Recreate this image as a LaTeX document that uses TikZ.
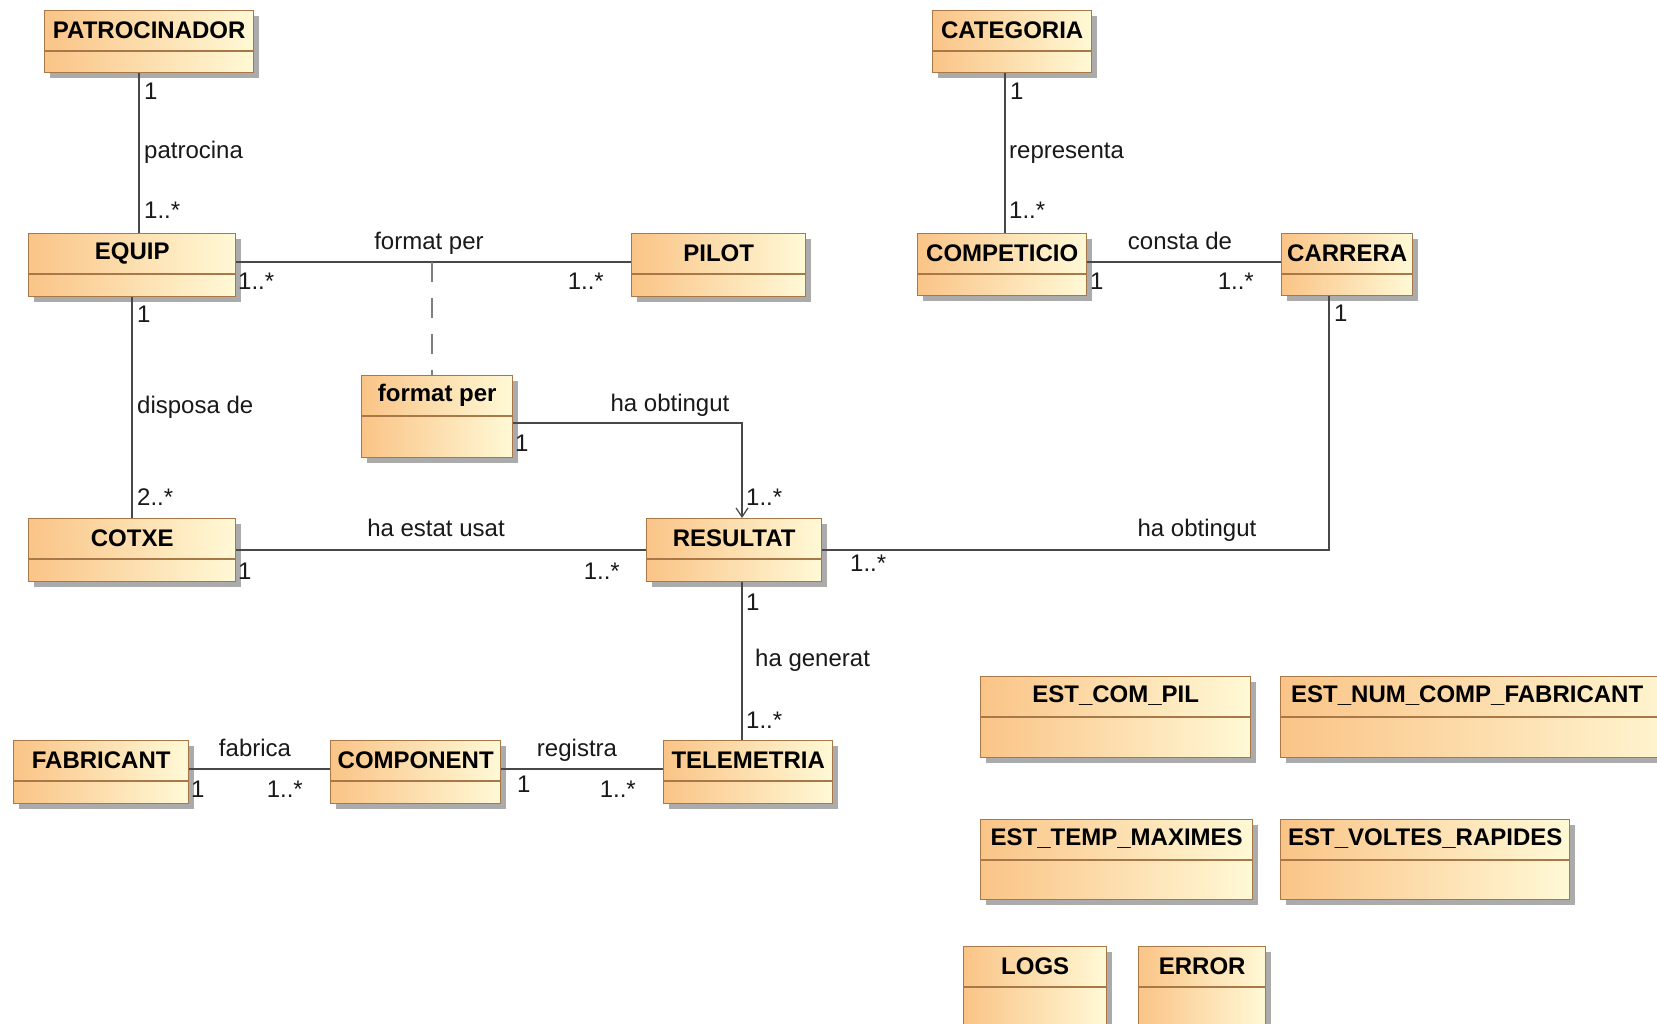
\documentclass[tikz,border=0pt]{standalone}
\usepackage{fontspec}
\setmainfont{Liberation Sans}
\usetikzlibrary{arrows.meta,shadows}
\definecolor{clsL}{RGB}{250,196,135}
\definecolor{clsR}{RGB}{255,249,214}
\definecolor{clsBorder}{RGB}{168,120,72}
\definecolor{wire}{RGB}{72,72,72}
\definecolor{dashwire}{RGB}{128,128,128}
\tikzset{
  cls/.style={rectangle, draw=clsBorder, line width=1.4pt, left color=clsL, right color=clsR,
    inner sep=0pt, anchor=north west,
    drop shadow={shadow xshift=5pt, shadow yshift=-5pt, fill=black!33, opacity=1}},
  divider/.style={draw=clsBorder, line width=1.4pt},
  title/.style={inner sep=0pt, font=\fontsize{24}{27}\selectfont\bfseries},
  lab/.style={inner sep=0pt, font=\fontsize{24}{27}\selectfont, text=black!90},
  assoc/.style={draw=wire, line width=1.4pt},
  navi/.style={assoc, -{Straight Barb[length=9pt,width=12pt,line width=1.2pt]}},
  anchorline/.style={draw=dashwire, line width=1.4pt, dash pattern=on 20pt off 16pt},
}
% class box: name, left, top, width, height, title
\newcommand\umlclass[6]{%
  \node[cls, minimum width=#4pt, minimum height=#5pt] (#1) at (#2,#3) {};
  \draw[divider] ([yshift=-41pt]#1.north west) -- ([yshift=-41pt]#1.north east);
  \node[title] (#1-name) at ([yshift=-20pt]#1.north) {#6};
}
% class box whose name is set flush left
\newcommand\umlclassleft[6]{%
  \node[cls, minimum width=#4pt, minimum height=#5pt] (#1) at (#2,#3) {};
  \draw[divider] ([yshift=-41pt]#1.north west) -- ([yshift=-41pt]#1.north east);
  \node[title, anchor=west] (#1-name) at ([xshift=11pt,yshift=-20pt]#1.north west) {#6};
}
\begin{document}
\begin{tikzpicture}[x=1pt,y=-1pt]
\useasboundingbox[fill=white] (0,0) rectangle (1657,1024);

% classes
\umlclass{patro}{44}{10}{209}{62}{PATROCINADOR}
\umlclass{categ}{932}{10}{159}{62}{CATEGORIA}
\umlclass{equip}{28}{233}{207}{63}{EQUIP}
\umlclass{pilot}{631}{233}{174}{63}{PILOT}
\umlclass{compet}{917}{233}{169}{62}{COMPETICIO}
\umlclass{carrera}{1281}{233}{131}{62}{CARRERA}
\umlclass{fmt}{361}{375}{151}{82}{format per}
\umlclass{cotxe}{28}{518}{207}{63}{COTXE}
\umlclass{result}{646}{518}{175}{63}{RESULTAT}
\umlclass{fabric}{13}{740}{175}{63}{FABRICANT}
\umlclass{compo}{330}{740}{170}{63}{COMPONENT}
\umlclass{telem}{663}{740}{169}{63}{TELEMETRIA}
\umlclass{estcp}{980}{676}{270}{81}{EST\_COM\_PIL}
\umlclassleft{estnum}{1280}{676}{420}{81}{EST\_NUM\_COMP\_FABRICANT}
\umlclass{esttemp}{980}{819}{272}{80}{EST\_TEMP\_MAXIMES}
\umlclass{estvolt}{1280}{819}{289}{80}{EST\_VOLTES\_RAPIDES}
\umlclass{logs}{963}{946}{143}{100}{LOGS}
\umlclass{error}{1138}{946}{127}{100}{ERROR}

% associations
\draw[assoc] (patro.south -| 139,0) -- (equip.north -| 139,0);
\draw[assoc] (equip.east |- 0,262) -- (pilot.west |- 0,262);
\coordinate (fmtmid) at (432,262);
\draw[anchorline] (fmtmid) -- (fmtmid |- fmt.north);
\draw[assoc] (equip.south -| 132,0) -- (cotxe.north -| 132,0);
\draw[assoc] (categ.south -| 1005,0) -- (compet.north -| 1005,0);
\draw[assoc] (compet.east |- 0,262) -- (carrera.west |- 0,262);
\coordinate (fmtbend) at (742,423);
\draw[navi] (fmt.east |- fmtbend) -- (fmtbend) -- (result.north -| fmtbend);
\draw[assoc] (cotxe.east |- 0,550) -- (result.west |- 0,550);
\coordinate (carbend) at (1329,550);
\draw[assoc] (result.east |- carbend) -- (carbend) -- (carrera.south -| carbend);
\draw[assoc] (result.south -| 742,0) -- (telem.north -| 742,0);
\draw[assoc] (fabric.east |- 0,769) -- (compo.west |- 0,769);
\draw[assoc] (compo.east |- 0,769) -- (telem.west |- 0,769);

% role names and multiplicities
\node[lab, anchor=base west] (m1) at (144,100) {1};
\node[lab, anchor=base west] (a1) at (144,159) {patrocina};
\node[lab, anchor=base west] (m2) at (144,219) {1..*};
\node[lab, anchor=base] (a2) at (429,250) {format per};
\node[lab, anchor=base west] (m3) at (238,290) {1..*};
\node[lab, anchor=base east] (m4) at (604,290) {1..*};
\node[lab, anchor=base west] (m5) at (137,323) {1};
\node[lab, anchor=base west] (a3) at (137,413) {disposa de};
\node[lab, anchor=base west] (m6) at (137,505) {2..*};
\node[lab, anchor=base west] (m7) at (1010,100) {1};
\node[lab, anchor=base west] (a4) at (1009,159) {representa};
\node[lab, anchor=base west] (m8) at (1009,219) {1..*};
\node[lab, anchor=base] (a5) at (1180,250) {consta de};
\node[lab, anchor=base west] (m9) at (1090,290) {1};
\node[lab, anchor=base east] (m10) at (1254,290) {1..*};
\node[lab, anchor=base west] (m11) at (1334,322) {1};
\node[lab, anchor=base] (a6) at (670,411) {ha obtingut};
\node[lab, anchor=base west] (m12) at (515,451) {1};
\node[lab, anchor=base west] (m13) at (746,505) {1..*};
\node[lab, anchor=base] (a7) at (436,536) {ha estat usat};
\node[lab, anchor=base west] (m14) at (238,579) {1};
\node[lab, anchor=base east] (m15) at (620,579) {1..*};
\node[lab, anchor=base] (a8) at (1197,536) {ha obtingut};
\node[lab, anchor=base west] (m16) at (850,571) {1..*};
\node[lab, anchor=base west] (m17) at (746,610) {1};
\node[lab, anchor=base west] (a9) at (755,666) {ha generat};
\node[lab, anchor=base west] (m18) at (746,728) {1..*};
\node[lab, anchor=base] (a10) at (255,756) {fabrica};
\node[lab, anchor=base west] (m19) at (191,797) {1};
\node[lab, anchor=base east] (m20) at (303,797) {1..*};
\node[lab, anchor=base] (a11) at (577,756) {registra};
\node[lab, anchor=base west] (m21) at (517,792) {1};
\node[lab, anchor=base east] (m22) at (636,797) {1..*};
\end{tikzpicture}
\end{document}
